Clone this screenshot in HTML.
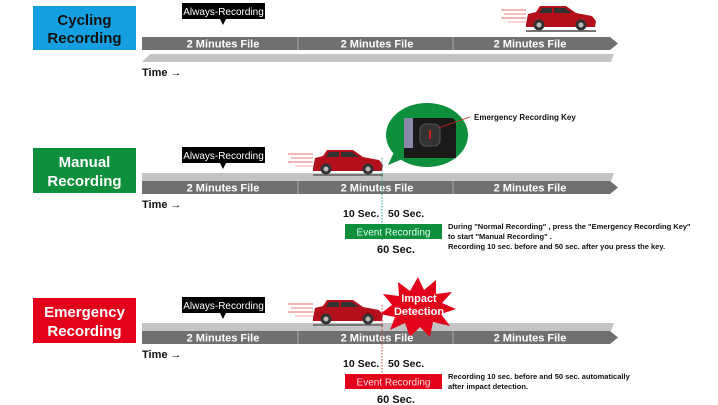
<!DOCTYPE html>
<html><head><meta charset="utf-8"><style>
body{margin:0;background:#fff;}
svg{display:block;font-family:"Liberation Sans",sans-serif;}
.b{font-weight:bold;}
</style></head><body>
<svg width="718" height="405" viewBox="0 0 718 405" xmlns="http://www.w3.org/2000/svg">
<defs>
<g id="car">
  <line x1="-25" y1="6" x2="0" y2="6" stroke="#e88" stroke-width="1.2"/>
  <line x1="-22" y1="10" x2="0" y2="10" stroke="#e99" stroke-width="1.2"/>
  <line x1="-25" y1="14" x2="0" y2="14" stroke="#e88" stroke-width="1.2"/>
  <line x1="-18" y1="18" x2="0" y2="18" stroke="#fbb" stroke-width="1.2"/>
  <path d="M0,20 L2,10 L10,8 L14,2 L40,2 L50,9 L66,12 L70,17 L69,23 L0,23 Z" fill="#b3101c"/>
  <path d="M16,4 L26,4 L26,9 L13,9 Z M28,4 L39,4 L46,9 L28,9 Z" fill="#333"/>
  <rect x="0" y="26" width="70" height="2" fill="#777"/>
  <circle cx="13" cy="21" r="5.5" fill="#333"/><circle cx="13" cy="21" r="2.5" fill="#bbb"/>
  <circle cx="55" cy="21" r="5.5" fill="#333"/><circle cx="55" cy="21" r="2.5" fill="#bbb"/>
</g>
</defs>

<!-- Cycling -->
<rect x="33" y="6" width="103" height="44" fill="#14a0e0"/>
<text x="84.5" y="25" text-anchor="middle" font-size="15" class="b" fill="#111">Cycling</text>
<text x="84.5" y="43" text-anchor="middle" font-size="15" class="b" fill="#111">Recording</text>
<rect x="182" y="3" width="83" height="16" fill="#000"/>
<polygon points="220,19 226,19 223,25" fill="#000"/>
<text x="223.5" y="15" text-anchor="middle" font-size="10" fill="#fff">Always-Recording</text>
<polygon points="142,37 610,37 618,43.5 610,50 142,50" fill="#707070"/>
<line x1="298" y1="37" x2="298" y2="50" stroke="#aaa"/>
<line x1="453" y1="37" x2="453" y2="50" stroke="#aaa"/>
<text x="223" y="47.5" text-anchor="middle" font-size="11" class="b" fill="#fff">2 Minutes File</text>
<text x="377" y="47.5" text-anchor="middle" font-size="11" class="b" fill="#fff">2 Minutes File</text>
<text x="530" y="47.5" text-anchor="middle" font-size="11" class="b" fill="#fff">2 Minutes File</text>
<polygon points="150,54 614,54 611,62 142,62" fill="#c4c4c4"/>
<text x="142" y="76" font-size="11" class="b" fill="#111">Time →</text>
<use href="#car" x="526" y="4"/>

<!-- Manual -->
<rect x="33" y="148" width="103" height="45" fill="#0d8f3c"/>
<text x="84.5" y="167" text-anchor="middle" font-size="15" class="b" fill="#fff">Manual</text>
<text x="84.5" y="186" text-anchor="middle" font-size="15" class="b" fill="#fff">Recording</text>
<rect x="182" y="147" width="83" height="16" fill="#000"/>
<polygon points="220,163 226,163 223,169" fill="#000"/>
<text x="223.5" y="159" text-anchor="middle" font-size="10" fill="#fff">Always-Recording</text>
<polygon points="142,173 614,173 611,181 142,181" fill="#c4c4c4"/>
<polygon points="142,181 610,181 618,187.5 610,194 142,194" fill="#707070"/>
<line x1="298" y1="181" x2="298" y2="194" stroke="#aaa"/>
<line x1="453" y1="181" x2="453" y2="194" stroke="#aaa"/>
<text x="223" y="191.5" text-anchor="middle" font-size="11" class="b" fill="#fff">2 Minutes File</text>
<text x="377" y="191.5" text-anchor="middle" font-size="11" class="b" fill="#fff">2 Minutes File</text>
<text x="530" y="191.5" text-anchor="middle" font-size="11" class="b" fill="#fff">2 Minutes File</text>
<text x="142" y="208" font-size="11" class="b" fill="#111">Time →</text>
<use href="#car" x="313" y="148"/>
<line x1="382" y1="158" x2="382" y2="240" stroke="#2a8" stroke-dasharray="1.5,1.5"/>
<ellipse cx="427" cy="135" rx="41" ry="32" fill="#0d8f3c"/>
<polygon points="395,150 388,165 405,158" fill="#0d8f3c"/>
<path d="M404,118 L450,118 Q456,118 456,124 L456,158 L404,158 Z" fill="#1a1a1a"/>
<rect x="404" y="118" width="9" height="30" fill="#88a"/>
<rect x="420" y="124" width="20" height="22" rx="6" fill="#333" stroke="#555"/>
<rect x="429" y="130" width="2" height="9" fill="#c22"/>
<line x1="438" y1="128" x2="470" y2="117" stroke="#c22" stroke-width="0.8"/>
<text x="474" y="120" font-size="8" class="b" fill="#111">Emergency Recording Key</text>
<text x="343" y="217" font-size="10.5" class="b" fill="#111">10 Sec.</text>
<text x="388" y="217" font-size="10.5" class="b" fill="#111">50 Sec.</text>
<rect x="345" y="224" width="97" height="15" fill="#0d8f3c"/>
<text x="393.5" y="235.5" text-anchor="middle" font-size="10" fill="#dfe">Event Recording</text>
<text x="377" y="253" font-size="11" class="b" fill="#111">60 Sec.</text>
<text x="448" y="229" font-size="7.5" class="b" fill="#111">During "Normal Recording" , press the "Emergency Recording Key"</text>
<text x="448" y="239" font-size="7.5" class="b" fill="#111">to start "Manual Recording" .</text>
<text x="448" y="249" font-size="7.5" class="b" fill="#111">Recording 10 sec. before and 50 sec. after you press the key.</text>

<!-- Emergency -->
<rect x="33" y="298" width="103" height="45" fill="#e3001b"/>
<text x="84.5" y="317" text-anchor="middle" font-size="15" class="b" fill="#fff">Emergency</text>
<text x="84.5" y="336" text-anchor="middle" font-size="15" class="b" fill="#fff">Recording</text>
<rect x="182" y="297" width="83" height="16" fill="#000"/>
<polygon points="220,313 226,313 223,319" fill="#000"/>
<text x="223.5" y="309" text-anchor="middle" font-size="10" fill="#fff">Always-Recording</text>
<polygon points="142,323 614,323 611,331 142,331" fill="#c4c4c4"/>
<polygon points="142,331 610,331 618,337.5 610,344 142,344" fill="#707070"/>
<line x1="298" y1="331" x2="298" y2="344" stroke="#aaa"/>
<line x1="453" y1="331" x2="453" y2="344" stroke="#aaa"/>
<text x="223" y="341.5" text-anchor="middle" font-size="11" class="b" fill="#fff">2 Minutes File</text>
<text x="530" y="341.5" text-anchor="middle" font-size="11" class="b" fill="#fff">2 Minutes File</text>
<text x="142" y="358" font-size="11" class="b" fill="#111">Time →</text>
<use href="#car" x="313" y="298"/>
<polygon points="398,282 410,291 418,277 424,290 436,280 436,294 452,292 442,303 456,309 441,314 450,326 433,322 430,337 420,327 410,337 405,323 390,330 395,317 380,314 392,305 383,294 399,296" fill="#e3001b"/>
<text x="377" y="341.5" text-anchor="middle" font-size="11" class="b" fill="#fff">2 Minutes File</text>
<line x1="382" y1="305" x2="382" y2="390" stroke="#c44" stroke-dasharray="1.5,1.5"/>
<text x="419" y="302" text-anchor="middle" font-size="11" class="b" fill="#fff">Impact</text>
<text x="419" y="315" text-anchor="middle" font-size="11" class="b" fill="#fff">Detection</text>
<text x="343" y="367" font-size="10.5" class="b" fill="#111">10 Sec.</text>
<text x="388" y="367" font-size="10.5" class="b" fill="#111">50 Sec.</text>
<rect x="345" y="374" width="97" height="15" fill="#e3001b"/>
<text x="393.5" y="385.5" text-anchor="middle" font-size="10" fill="#fdd">Event Recording</text>
<text x="377" y="403" font-size="11" class="b" fill="#111">60 Sec.</text>
<text x="448" y="379" font-size="7.5" class="b" fill="#111">Recording 10 sec. before and 50 sec. automatically</text>
<text x="448" y="389" font-size="7.5" class="b" fill="#111">after impact detection.</text>
</svg>
</body></html>
